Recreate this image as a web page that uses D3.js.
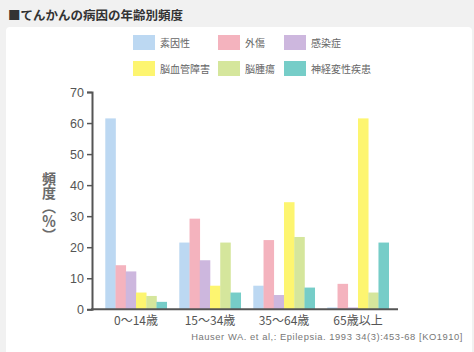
<!DOCTYPE html>
<html><head><meta charset="utf-8">
<script src="https://cdn.jsdelivr.net/npm/d3@7/dist/d3.min.js"></script>
<style>html,body{margin:0;padding:0;background:#fff;}svg{display:block;}</style>
</head><body>
<script>
const categories = ["0～14歳", "15～34歳", "35～64歳", "65歳以上"];
const seriesNames = ["素因性", "外傷", "感染症", "脳血管障害", "脳腫瘍", "神経変性疾患"];
const seriesColors = ["#bcd8f2", "#f4b3be", "#cdb7de", "#fdf570", "#d5e69c", "#76cdc8"];
const values = [
  [61.5, 14.2, 12.2, 5.4, 4.3, 2.4],
  [21.5, 29.2, 15.8, 7.6, 21.5, 5.4],
  [7.6, 22.3, 4.6, 34.5, 23.3, 7.0],
  [0.6, 8.2, 0.6, 61.5, 5.4, 21.5]
];
const yTicks = [0, 10, 20, 30, 40, 50, 60, 70];

const W = 474, H = 352;
const svg = d3.select("body").append("svg").attr("width", W).attr("height", H);
svg.append("rect").attr("width", W).attr("height", H).attr("fill", "#f1f1f1");
svg.append("rect").attr("x", 6).attr("y", 27).attr("width", 466).attr("height", 330).attr("rx", 4).attr("fill", "#fff");

const font = "'Noto Sans CJK JP', 'Liberation Sans', sans-serif";
svg.append("text").attr("x", 8).attr("y", 20).attr("font-family", font)
  .attr("font-size", 12.5).attr("font-weight", "bold").attr("fill", "#333").text("■てんかんの病因の年齢別頻度");

// legend
const legX = [133, 218, 284], legY = [35, 61];
seriesNames.forEach((n, i) => {
  const g = svg.append("g").attr("transform", `translate(${legX[i % 3]},${legY[Math.floor(i / 3)]})`);
  g.append("rect").attr("width", 22).attr("height", 15).attr("fill", seriesColors[i]);
  g.append("text").attr("x", 27).attr("y", 11.5).attr("font-family", font).attr("font-size", 10)
    .attr("fill", "#666").text(n);
});

const y = d3.scaleLinear().domain([0, 70]).range([309.3, 92]);
const x0 = d3.scaleBand().domain(categories).range([99, 395]).paddingInner(0.17).paddingOuter(0.085);
const x1 = d3.scaleBand().domain(d3.range(seriesNames.length)).range([0, x0.bandwidth()]);

const groups = svg.append("g").selectAll("g").data(values).join("g")
  .attr("transform", (d, i) => `translate(${x0(categories[i])},0)`);
groups.selectAll("rect").data(d => d).join("rect")
  .attr("x", (d, j) => x1(j)).attr("width", x1.bandwidth() + 0.3)
  .attr("y", d => y(d)).attr("height", d => y(0) - y(d))
  .attr("fill", (d, j) => seriesColors[j]);

// y axis
const yAxis = svg.append("g").attr("transform", "translate(92,0)")
  .call(d3.axisLeft(y).tickValues(yTicks).tickSize(5).tickPadding(3));
yAxis.select(".domain").attr("stroke", "#555").attr("stroke-width", 2);
yAxis.selectAll(".tick line").attr("stroke", "#555").attr("stroke-width", 1.5);
yAxis.selectAll(".tick text").attr("font-family", "'Liberation Sans', Arial, sans-serif")
  .attr("font-size", 12.5).attr("fill", "#555");

// x axis line
svg.append("line").attr("x1", 91).attr("x2", 398).attr("y1", y(0)).attr("y2", y(0))
  .attr("stroke", "#555").attr("stroke-width", 2);
svg.append("g").selectAll("text").data(categories).join("text")
  .attr("x", d => x0(d) + x0.bandwidth() / 2).attr("y", 325)
  .attr("text-anchor", "middle").attr("font-family", font).attr("font-size", 12)
  .attr("fill", "#555").text(d => d);

// y title
svg.append("text").attr("x", 49).attr("y", 172)
  .attr("font-family", font).attr("font-size", 14).attr("font-weight", "bold").attr("fill", "#6a6a6a")
  .style("writing-mode", "vertical-rl").text("頻度（％）");

// source
svg.append("text").attr("x", 463).attr("y", 340).attr("text-anchor", "end")
  .attr("font-family", "'Liberation Sans', Arial, sans-serif").attr("font-size", 9.4)
  .attr("letter-spacing", 0.55).attr("fill", "#777")
  .text("Hauser WA. et al,: Epilepsia. 1993 34(3):453-68 [KO1910]");
</script>
</body></html>
